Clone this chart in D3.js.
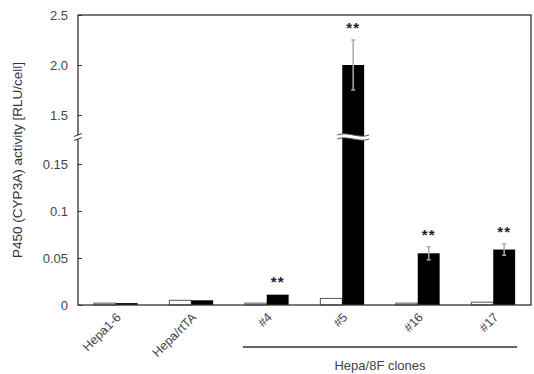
<!DOCTYPE html>
<html>
<head>
<meta charset="utf-8">
<script src="https://cdn.jsdelivr.net/npm/d3@7"></script>
<style>
  body { margin: 0; background: #fff; }
  text { font-family: "Liberation Sans", Arial, sans-serif; }
</style>
</head>
<body>
<svg id="plot" width="534" height="374"></svg>
<script>
const categories = ["Hepa1-6", "Hepa/rtTA", "#4", "#5", "#16", "#17"];
const whiteValues = [0.002, 0.005, 0.002, 0.007, 0.002, 0.003];
const blackValues = [0.002, 0.005, 0.011, 2.0, 0.055, 0.059];
const blackErrors = [0, 0, 0.001, 0.25, 0.007, 0.006];
const starred = ["#4", "#5", "#16", "#17"];
const lowTicks = [0, 0.05, 0.1, 0.15];
const highTicks = [1.5, 2.0, 2.5];
const cloneGroup = ["#4", "#5", "#16", "#17"];

const width = 534, height = 374;
const margin = { top: 15, right: 3, bottom: 69, left: 78 };
const x0 = margin.left, x1 = width - margin.right;
const yZero = height - margin.bottom;
const yBreak = 137;

const svg = d3.select("#plot");

const xScale = d3.scaleBand()
  .domain(categories)
  .range([x0, x1])
  .paddingInner(0.42)
  .paddingOuter(0.21);

const yLow = d3.scaleLinear().domain([0, 0.1787]).range([yZero, yBreak]);
const yHigh = d3.scaleLinear().domain([1.28, 2.5]).range([yBreak, margin.top]);
const y = v => v <= 0.1787 ? yLow(v) : yHigh(v);

const bw = xScale.bandwidth() / 2;

// axes (ticks point inward)
const axisLowG = svg.append("g")
  .attr("transform", `translate(${x0},0)`)
  .call(d3.axisLeft(yLow).tickValues(lowTicks).tickSize(-4).tickPadding(10)
    .tickFormat(d => d === 0 ? "0" : String(d)));
const axisHighG = svg.append("g")
  .attr("transform", `translate(${x0},0)`)
  .call(d3.axisLeft(yHigh).tickValues(highTicks).tickSize(-4).tickPadding(10)
    .tickFormat(d3.format(".1f")));
[axisLowG, axisHighG].forEach(g => {
  g.select(".domain").remove();
  g.selectAll("line").attr("stroke", "#333");
  g.selectAll("text").attr("font-size", 13).attr("fill", "#444");
});

// bars
const groups = svg.append("g").selectAll("g")
  .data(categories)
  .join("g");

groups.append("rect")
  .attr("x", d => xScale(d))
  .attr("y", (d, i) => y(whiteValues[i]))
  .attr("width", bw)
  .attr("height", (d, i) => yZero - y(whiteValues[i]))
  .attr("fill", "#fff")
  .attr("stroke", "#555")
  .attr("stroke-width", 1);

groups.append("rect")
  .attr("x", d => xScale(d) + bw)
  .attr("y", (d, i) => y(blackValues[i]))
  .attr("width", bw)
  .attr("height", (d, i) => yZero - y(blackValues[i]))
  .attr("fill", "#000");

// error bars
groups.filter((d, i) => blackErrors[i] > 0.002).each(function(d) {
  const i = categories.indexOf(d);
  const cx = xScale(d) + bw * 1.5;
  const top = y(blackValues[i] + blackErrors[i]);
  const bot = y(blackValues[i] - blackErrors[i]);
  const g = d3.select(this);
  g.append("line").attr("x1", cx).attr("x2", cx).attr("y1", top).attr("y2", bot)
    .attr("stroke", "#aaa").attr("stroke-width", 1.5);
  [top, bot].forEach(yy => g.append("line")
    .attr("x1", cx - 2).attr("x2", cx + 2).attr("y1", yy).attr("y2", yy)
    .attr("stroke", "#aaa").attr("stroke-width", 1.5));
});

// significance stars
svg.append("g").selectAll("text")
  .data(starred)
  .join("text")
  .attr("x", d => xScale(d) + bw * 1.5)
  .attr("y", d => {
    const i = categories.indexOf(d);
    return y(blackValues[i] + blackErrors[i]) - 7;
  })
  .attr("text-anchor", "middle")
  .attr("font-size", 15)
  .attr("font-weight", "bold")
  .attr("letter-spacing", 1)
  .attr("fill", "#222")
  .text("**");

// frame
svg.append("rect")
  .attr("x", x0).attr("y", margin.top)
  .attr("width", x1 - x0).attr("height", yZero - margin.top)
  .attr("fill", "none").attr("stroke", "#333").attr("stroke-width", 1.3);

// axis break marks
const brk = svg.append("g");
brk.append("rect").attr("x", x0 - 4).attr("y", yBreak - 2).attr("width", 8).attr("height", 4).attr("fill", "#fff");
[-2, 2].forEach(o => brk.append("line")
  .attr("x1", x0 - 4).attr("x2", x0 + 4)
  .attr("y1", yBreak + o + 1.5).attr("y2", yBreak + o - 1.5)
  .attr("stroke", "#333").attr("stroke-width", 1));

// bar break on #5 black bar
const bigIdx = blackValues.findIndex(v => v > 0.1787);
const bx = xScale(categories[bigIdx]) + bw - 5;
const bW = bw + 10;
const wave = (yy) => {
  const p = d3.path();
  p.moveTo(bx, yy);
  p.bezierCurveTo(bx + bW * 0.3, yy - 4, bx + bW * 0.7, yy + 4, bx + bW, yy);
  return p.toString();
};
const waveArea = `${wave(yBreak - 2)} L${bx + bW},${yBreak + 2} ` +
  `C${bx + bW * 0.7},${yBreak + 6} ${bx + bW * 0.3},${yBreak - 2} ${bx},${yBreak + 2} Z`;
brk.append("path").attr("d", waveArea).attr("fill", "#fff");
brk.append("path").attr("d", wave(yBreak - 2)).attr("fill", "none").attr("stroke", "#555").attr("stroke-width", 1);
brk.append("path").attr("d", wave(yBreak + 2)).attr("fill", "none").attr("stroke", "#555").attr("stroke-width", 1);

// x labels
svg.append("g").selectAll("text")
  .data(categories)
  .join("text")
  .attr("transform", d => `translate(${xScale(d) + bw + 6},${yZero + 13}) rotate(-45)`)
  .attr("text-anchor", "end")
  .attr("font-size", 12.5)
  .attr("fill", "#444")
  .text(d => d);

// clone group line and label
const gx0 = xScale(cloneGroup[0]) - 2;
const gx1 = xScale(cloneGroup[cloneGroup.length - 1]) + xScale.bandwidth() + 2;
svg.append("line")
  .attr("x1", gx0).attr("x2", gx1).attr("y1", 347).attr("y2", 347)
  .attr("stroke", "#333").attr("stroke-width", 1.3);
svg.append("text")
  .attr("x", (gx0 + gx1) / 2).attr("y", 370)
  .attr("text-anchor", "middle")
  .attr("font-size", 13)
  .attr("fill", "#444")
  .text("Hepa/8F clones");

// y label
svg.append("text")
  .attr("transform", `translate(22,${(margin.top + yZero) / 2}) rotate(-90)`)
  .attr("text-anchor", "middle")
  .attr("font-size", 13.5)
  .attr("fill", "#333")
  .text("P450 (CYP3A) activity [RLU/cell]");
</script>
</body>
</html>
